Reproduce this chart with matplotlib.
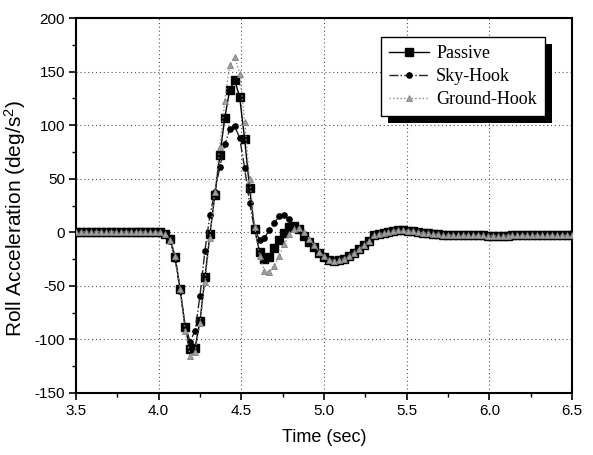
import numpy as np
import matplotlib
matplotlib.use("Agg")
import matplotlib.pyplot as plt
from matplotlib.patches import Rectangle

plt.rcParams['font.family'] = ['Liberation Sans', 'DejaVu Sans']
plt.rcParams['mathtext.fontset'] = 'custom'
plt.rcParams['mathtext.rm'] = 'Liberation Sans'
plt.rcParams['mathtext.default'] = 'regular'
plt.rcParams['axes.unicode_minus'] = False

# time samples (sec), 0.03 s spacing from 3.5 to 6.5
t_start, t_step, n_pts = 3.5, 0.03, 101
time = np.round(t_start + t_step * np.arange(n_pts), 3)

flat_pre = [0.6, 0.5, 0.4, 0.5, 0.6, 0.5, 0.4, 0.5, 0.6, 0.5, 0.4, 0.5,
            0.5, 0.4, 0.3, 0.3, 0.2, 0.0]
tail = [-2.5, -1.8, -0.5, 0.5, 1.5, 2.0, 2.0, 1.5, 1.0, 0.3, -0.3, -1.0,
        -1.5, -2.0, -2.3, -2.5,
        -2.6, -2.7, -2.8, -2.8, -2.9, -2.9, -2.9, -3.0, -3.0, -3.0, -3.0,
        -3.0, -2.9, -2.9, -2.9, -2.8, -2.8, -2.8, -2.8, -2.8, -2.8, -2.8,
        -2.8, -2.8, -2.8]
# k = 18 .. 59
passive_mid = [-1.5, -6, -23, -53, -88, -109, -108, -83, -42, -2, 35, 72,
               107, 133, 142, 126, 87, 41, 3, -18, -25, -23, -15, -7.5, -1,
               4.5, 6, 3, -3, -9, -14, -19, -23, -25.5, -26.5, -26, -24.5,
               -22, -19, -15.5, -12, -8.5]
skyhook_mid = [-1.5, -8, -25, -55, -87, -102, -92, -59, -17, 16, 38, 61,
               82, 96, 99, 88, 60, 27, 3, -7, -5, 2, 9, 15, 16, 12, 7, 2,
               -4, -9.5, -14.5, -19, -23, -25.5, -26.5, -26, -24.5, -22,
               -19, -15.5, -12, -8.5]
ground_mid = [-1.5, -7, -22, -53, -92, -115, -112, -85, -46, -5, 38, 80,
              123, 156, 164, 148, 103, 50, 5, -22, -36, -37, -31, -22, -11,
              -2, 3, 4, 0, -6, -12, -18, -22.5, -25.5, -26.5, -26, -24.5,
              -22, -19, -15.5, -12, -8.5]

passive = np.array(flat_pre + passive_mid + tail)
skyhook = np.array(flat_pre + skyhook_mid + tail)
groundhook = np.array(flat_pre + ground_mid + tail)

fig = plt.figure(figsize=(5.93, 4.55), dpi=100)
ax = fig.add_axes([76/593, 1-393/455, 496/593, 375/455])

ax.plot(time, passive, '-', color='black', lw=1.0, marker='s', ms=5.8,
        mfc='black', mec='black', label='Passive', zorder=3)
ax.plot(time, skyhook, '-.', color='#222222', lw=1.0, marker='o', ms=3.8,
        mfc='black', mec='black', label='Sky-Hook', zorder=4)
ax.plot(time, groundhook, ':', color='#888888', lw=1.0, marker='^', ms=4.2,
        mfc='#a0a0a0', mec='#808080', mew=0.6, label='Ground-Hook', zorder=5)

ax.set_xlim(3.5, 6.5)
ax.set_ylim(-150, 200)
ax.set_xticks([3.5, 4.0, 4.5, 5.0, 5.5, 6.0, 6.5])
ax.set_xticklabels(['3.5', '4.0', '4.5', '5.0', '5.5', '6.0', '6.5'])
ax.set_yticks([-150, -100, -50, 0, 50, 100, 150, 200])
ax.set_xticks(np.arange(3.5, 6.51, 0.25), minor=True)
ax.set_yticks(np.arange(-150, 201, 25), minor=True)
ax.tick_params(which='major', direction='out', length=5, width=1.2,
               labelsize=11, pad=3)
ax.tick_params(which='minor', direction='out', length=3, width=1.0)
for s in ax.spines.values():
    s.set_linewidth(1.5)
ax.grid(True, which='major', linestyle=(0, (1, 2.5)), color='#555555', lw=0.8)

ax.set_xlabel('Time (sec)', fontsize=13, labelpad=8)
ax.set_ylabel('Roll Acceleration (deg/s$^2$)', fontsize=15)
ax.yaxis.set_label_coords(-0.097, 0.465)

leg = ax.legend(loc='upper right', bbox_to_anchor=(0.9456, 0.9485),
                borderaxespad=0, prop={'family': 'Liberation Serif', 'size': 13},
                handlelength=2.2, handletextpad=0.4, labelspacing=0.32,
                borderpad=0.45, fancybox=False, framealpha=1,
                edgecolor='black')
leg.get_frame().set_linewidth(1.0)
leg.set_zorder(10)

fig.canvas.draw()
bb = leg.get_window_extent().transformed(fig.transFigure.inverted())
dx, dy = 7/593, -7/455
shadow = Rectangle((bb.x0 + dx, bb.y0 + dy), bb.width, bb.height,
                   transform=fig.transFigure, facecolor='black',
                   edgecolor='none', zorder=9, clip_on=False)
ax.add_patch(shadow)

fig.savefig('out.png', dpi=100)
